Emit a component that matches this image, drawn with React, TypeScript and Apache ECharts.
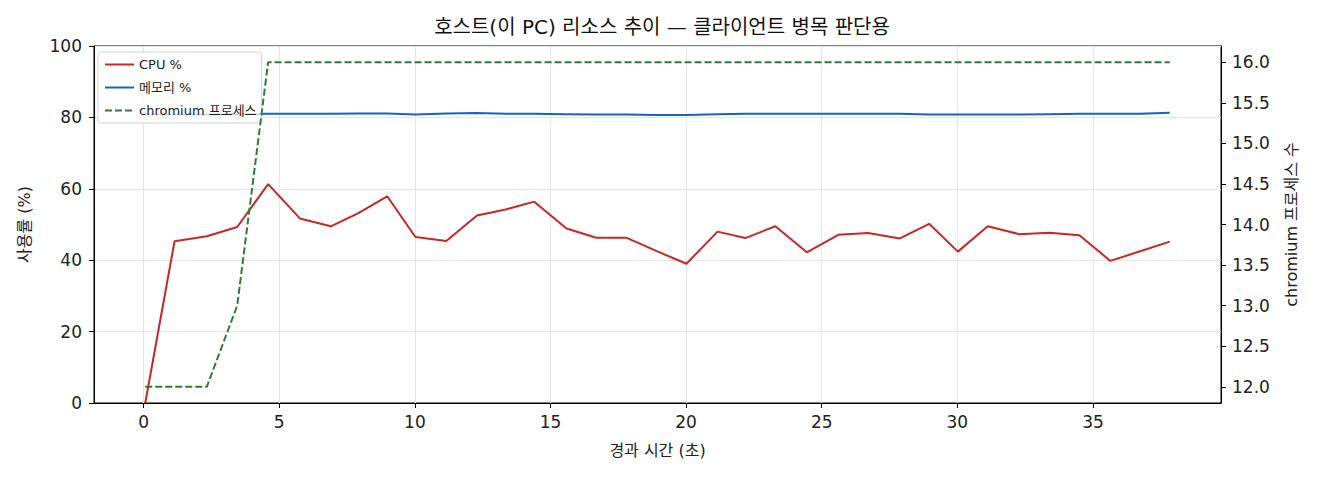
import { useEffect, useRef } from 'react';
import * as echarts from 'echarts';

// 경과 시간 (초)
const elapsed = [0.06, 1.14, 2.33, 3.45, 4.59, 5.76, 6.9, 7.9, 8.98, 10.02, 11.16, 12.29, 13.35, 14.4, 15.59, 16.69, 17.79, 18.9, 20.01, 21.16, 22.18, 23.29, 24.45, 25.61, 26.71, 27.88, 28.96, 30.02, 31.12, 32.27, 33.39, 34.5, 35.64, 36.74, 37.83];
const cpu = [0, 45.3, 46.7, 49.3, 61.3, 51.7, 49.5, 53.1, 57.9, 46.5, 45.4, 52.5, 54.2, 56.4, 48.9, 46.3, 46.3, 42.6, 39.0, 48.0, 46.2, 49.5, 42.2, 47.1, 47.6, 46.1, 50.2, 42.4, 49.5, 47.3, 47.7, 47.0, 39.8, 42.5, 45.2];
const memory = [80.8, 80.8, 80.8, 80.9, 81.0, 81.0, 81.0, 81.1, 81.1, 80.8, 81.1, 81.2, 81.0, 81.0, 80.9, 80.8, 80.8, 80.7, 80.7, 80.9, 81.0, 81.0, 81.0, 81.0, 81.0, 81.0, 80.8, 80.8, 80.8, 80.8, 80.9, 81.0, 81.0, 81.0, 81.3];
const chromium = [12, 12, 12, 13, 16, 16, 16, 16, 16, 16, 16, 16, 16, 16, 16, 16, 16, 16, 16, 16, 16, 16, 16, 16, 16, 16, 16, 16, 16, 16, 16, 16, 16, 16, 16];
const xTicks = [0, 5, 10, 15, 20, 25, 30, 35];
const rightTicks = [12, 12.5, 13, 13.5, 14, 14.5, 15, 15.5, 16];

const FONT = '"DejaVu Sans", "Noto Sans CJK KR", sans-serif';

const App = () => {
    const chartRef = useRef<HTMLDivElement | null>(null);
    useEffect(() => {
        document.body.style.margin = '0';
        if (!chartRef.current) return;
        const chart = echarts.init(chartRef.current, undefined, { renderer: 'svg' });
        const pairs = (vals: number[]) => vals.map((v, i) => [elapsed[i], v]);
        const tickLabel = { color: '#222', fontFamily: FONT, fontSize: 17 };
        const nameStyle = { fontFamily: FONT, fontSize: 16, color: '#222' };
        const option = {
            animation: false,
            backgroundColor: '#fff',
            title: {
                text: '호스트(이 PC) 리소스 추이 — 클라이언트 병목 판단용',
                left: 657, top: 12, textAlign: 'center',
                textStyle: { fontFamily: FONT, fontSize: 20, fontWeight: 'normal', color: '#111' }
            },
            legend: {
                orient: 'vertical', left: 98, top: 52,
                itemWidth: 29, itemHeight: 10, itemGap: 10,
                padding: [6, 5, 6, 6],
                backgroundColor: 'rgba(255,255,255,0.8)',
                borderColor: '#d6d6d6', borderWidth: 1, borderRadius: 3,
                itemStyle: { opacity: 0 },
                textStyle: { fontFamily: FONT, fontSize: 13, color: '#222' },
                data: ['CPU %', '메모리 %', 'chromium 프로세스']
            },
            grid: { left: 94, right: 99, top: 46, bottom: 77, show: true, borderColor: '#000', borderWidth: 1, backgroundColor: 'transparent' },
            xAxis: {
                type: 'value', min: -1.83, max: 39.72,
                name: '경과 시간 (초)', nameLocation: 'middle', nameGap: 39,
                nameTextStyle: nameStyle,
                axisLine: { onZero: false, lineStyle: { color: '#000' } },
                axisTick: { length: 5, lineStyle: { color: '#000' }, customValues: xTicks },
                axisLabel: { ...tickLabel, margin: 10, customValues: xTicks },
                splitLine: { show: true, lineStyle: { color: '#e6e6e6' } }
            },
            yAxis: [
                {
                    type: 'value', min: 0, max: 100, interval: 20,
                    name: '사용률 (%)', nameLocation: 'middle', nameGap: 62, nameRotate: 90,
                    nameTextStyle: nameStyle,
                    axisLine: { show: true, onZero: false, lineStyle: { color: '#000' } },
                    axisTick: { show: true, length: 5, lineStyle: { color: '#000' } },
                    axisLabel: { ...tickLabel, margin: 12 },
                    splitLine: { show: true, lineStyle: { color: '#e6e6e6' } }
                },
                {
                    type: 'value', min: 11.8, max: 16.2, position: 'right',
                    name: 'chromium 프로세스 수', nameLocation: 'middle', nameGap: 62, nameRotate: 90,
                    nameTextStyle: nameStyle,
                    axisLine: { show: true, onZero: false, lineStyle: { color: '#000' } },
                    axisTick: { show: true, length: 5, lineStyle: { color: '#000' }, customValues: rightTicks },
                    axisLabel: { ...tickLabel, margin: 11, customValues: rightTicks, formatter: (v: number) => v.toFixed(1) },
                    splitLine: { show: false }
                }
            ],
            series: [
                {
                    name: 'CPU %', type: 'line', yAxisIndex: 0, symbol: 'none',
                    data: pairs(cpu), itemStyle: { color: '#c62828' },
                    lineStyle: { color: '#c62828', width: 2 }, z: 2
                },
                {
                    name: '메모리 %', type: 'line', yAxisIndex: 0, symbol: 'none',
                    data: pairs(memory), itemStyle: { color: '#1565c0' },
                    lineStyle: { color: '#1565c0', width: 2 }, z: 3
                },
                {
                    name: 'chromium 프로세스', type: 'line', yAxisIndex: 1, symbol: 'none',
                    data: pairs(chromium), itemStyle: { color: '#2e7d32' },
                    lineStyle: { color: '#2e7d32', width: 2, type: [7, 3] }, z: 4
                }
            ]
        };
        chart.setOption(option);
        return () => chart.dispose();
    }, []);
    return <div ref={chartRef} style={{ width: 1320, height: 480 }} />;
};

export default App;
